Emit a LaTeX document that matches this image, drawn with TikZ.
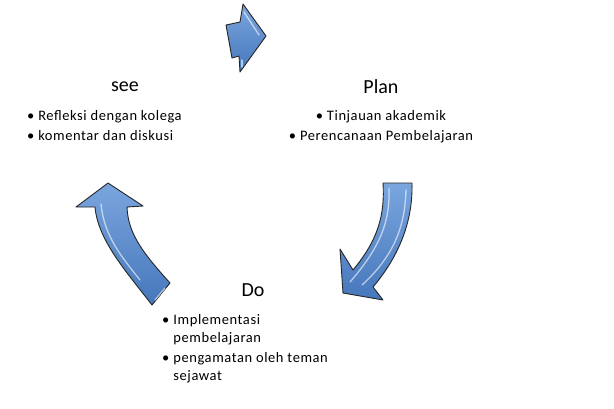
\documentclass[tikz,border=0pt]{standalone}
\usepackage{fontspec}
\setmainfont{Carlito}
\begin{document}
\begin{tikzpicture}[x=1pt,y=-1pt]
\definecolor{arrowlight}{HTML}{7AA6DE}
\definecolor{arrowdark}{HTML}{4677BC}
\tikzset{
 cyclearrow/.style={draw=black!85, line width=0.9pt, line join=round, top color=arrowlight, bottom color=arrowdark},
 gloss/.style={draw=white, opacity=0.6, line width=1.3pt, line cap=round},
 heading/.style={font=\fontsize{20}{24}\selectfont, inner sep=0pt},
 bullets/.style={font=\fontsize{14.5}{20}\selectfont\addfontfeatures{LetterSpace=4}, inner sep=0pt},
}
\useasboundingbox[fill=white] (0,0) rectangle (614,408);
% top arrow
\shade[cyclearrow] (226,25) -- (240,22) -- (243,4) -- (266,36) -- (240,72) -- (239,56) -- (232,58) -- cycle;
\draw[gloss] (244,12) -- (259,35);
\draw[gloss] (242,60) -- (242,67);
% right arrow
\shade[cyclearrow] (383,183) .. controls (385,215) and (378,240) .. (353,270) -- (340,249) -- (343,293) -- (383,300) -- (373,287) .. controls (400,255) and (413,220) .. (412,183) -- cycle;
\draw[gloss] (389,188) .. controls (390,220) and (382,245) .. (350,282);
\draw[gloss] (406,190) .. controls (405,225) and (395,255) .. (362,285);
% left arrow
\shade[cyclearrow] (108,183) -- (76,207) -- (95,207) .. controls (98,240) and (125,270) .. (152,305) -- (170,283) .. controls (145,255) and (128,235) .. (127,207) -- (143,206) -- cycle;
\draw[gloss] (101,204) .. controls (104,235) and (120,255) .. (140,280);
\draw[gloss] (155,300) -- (165,288);
% texts
\node[heading] (see) at (125,87) {see};
\node[heading] (plan) at (381,87) {Plan};
\node[heading] (do) at (253,290) {Do};
\node[bullets, align=left, anchor=north west] (seelist) at (27,110) {• Refleksi dengan kolega\\• komentar dan diskusi};
\node[bullets, align=center, anchor=north] (planlist) at (381,110) {• Tinjauan akademik\\• Perencanaan Pembelajaran};
\node[bullets, anchor=north west] (dolist) at (162,311) {\fontsize{14.5}{18.5}\selectfont\begin{tabular}{@{}l@{\hspace{4pt}}l@{}}• & Implementasi\\ & pembelajaran\\[1pt] • & pengamatan oleh teman\\ & sejawat\end{tabular}};
\end{tikzpicture}
\end{document}
